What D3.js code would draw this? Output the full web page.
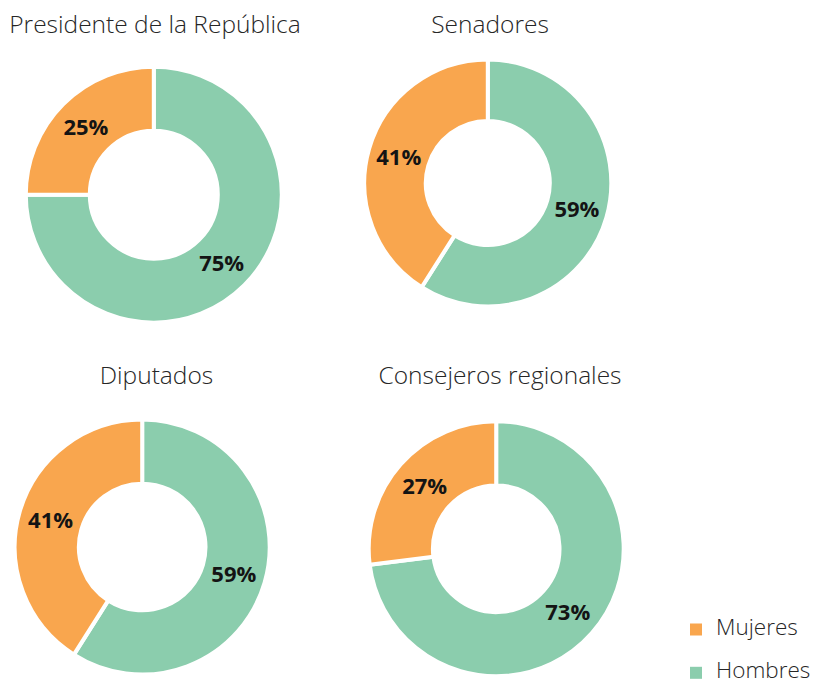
<!DOCTYPE html>
<html>
<head>
<meta charset="utf-8">
<script src="https://cdn.jsdelivr.net/npm/d3@7"></script>
<style>
  body { margin: 0; background: #fff; }
  text { font-family: "Open Sans", sans-serif; }
</style>
</head>
<body>
<script>
// data
const titles = ["Presidente de la República", "Senadores", "Diputados", "Consejeros regionales"];
const series = ["Hombres", "Mujeres"];
const hombres = [75, 59, 59, 73];
const mujeres = [25, 41, 41, 27];
const legendOrder = ["Mujeres", "Hombres"];

// layout for each donut: center, radii, title position
const layout = [
    {cx: 153.8, cy: 194.7, outer: 128, inner: 64, tx: 155, ty: 33},
    {cx: 487.8, cy: 183, outer: 123.5, inner: 62, tx: 490, ty: 33},
    {cx: 142.2, cy: 547, outer: 127.5, inner: 63.3, tx: 156.5, ty: 384},
    {cx: 496.2, cy: 548.8, outer: 127.5, inner: 63.3, tx: 500, ty: 384}
];

const color = d3.scaleOrdinal()
    .domain(series)
    .range(["#8bcdad", "#f9a64e"]);

const svg = d3.select("body").append("svg")
    .attr("width", 815)
    .attr("height", 679);

const pie = d3.pie().sort(null).value(d => d.value);

titles.forEach((title, i) => {
    const l = layout[i];
    const values = [
        {key: "Hombres", value: hombres[i]},
        {key: "Mujeres", value: mujeres[i]}
    ];
    const arc = d3.arc().innerRadius(l.inner).outerRadius(l.outer);
    const labelArc = d3.arc()
        .innerRadius((l.inner + l.outer) / 2)
        .outerRadius((l.inner + l.outer) / 2);

    svg.append("text")
        .attr("x", l.tx)
        .attr("y", l.ty)
        .attr("text-anchor", "middle")
        .style("font-size", "24.5px")
        .style("font-weight", 300)
        .style("fill", "#262626")
        .text(title);

    const g = svg.append("g")
        .attr("transform", "translate(" + l.cx + "," + l.cy + ")");

    g.selectAll("path")
        .data(pie(values))
        .enter()
        .append("path")
        .attr("d", arc)
        .attr("fill", d => color(d.data.key))
        .attr("stroke", "#fff")
        .attr("stroke-width", 4);

    g.selectAll("text.label")
        .data(pie(values))
        .enter()
        .append("text")
        .attr("class", "label")
        .attr("transform", d => "translate(" + labelArc.centroid(d) + ")")
        .attr("text-anchor", "middle")
        .attr("dy", "0.36em")
        .style("font-size", "22px")
        .style("font-weight", 700)
        .style("fill", "#141414")
        .text(d => d.data.value + "%");
});

// legend
const legend = svg.append("g");
legendOrder.forEach((name, i) => {
    legend.append("rect")
        .attr("x", 690)
        .attr("y", 623.5 + i * 43.3)
        .attr("width", 12)
        .attr("height", 12)
        .attr("fill", color(name));
    legend.append("text")
        .attr("x", 716)
        .attr("y", 635 + i * 42.5)
        .style("font-size", "22.5px")
        .style("font-weight", 300)
        .style("fill", "#262626")
        .text(name);
});
</script>
</body>
</html>
